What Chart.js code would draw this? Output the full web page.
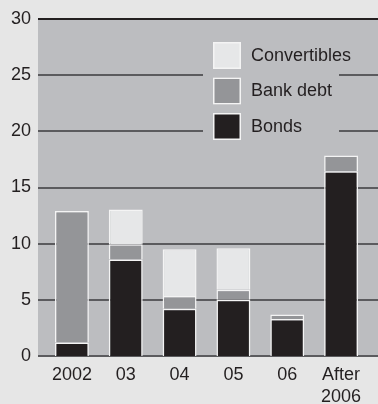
<!DOCTYPE html>
<html>
<head>
<meta charset="utf-8">
<script src="https://cdn.jsdelivr.net/npm/chart.js@4/dist/chart.umd.min.js"></script>
<style>
  html, body { margin: 0; padding: 0; background: #e6e6e6; }
  canvas { display: block; }
</style>
</head>
<body>
<canvas id="myChart" width="378" height="404"></canvas>
<script>
// datos (miles de millones)
const categorias = ['2002', '03', '04', '05', '06', ['After', '2006']];
const bonos = [1.2, 8.6, 4.2, 5.0, 3.3, 16.45];
const deudaBancaria = [11.7, 1.35, 1.15, 0.9, 0.4, 1.4];
const convertibles = [0, 3.1, 4.15, 3.7, 0, 0];
const ticksY = [0, 5, 10, 15, 20, 25, 30];

const colorTexto = '#231f20';
const fondoPlot = '#bcbdc0';
const fuente = 'Liberation Sans, Arial, Helvetica, sans-serif';

// fondo gris, lineas de grilla y leyenda propia
const fondoYGrilla = {
    id: 'fondoYGrilla',
    beforeDraw(chart) {
        const ctx = chart.ctx;
        const y = chart.scales.y;
        const izq = 38, der = chart.width;
        ctx.save();
        ctx.fillStyle = '#e6e6e6';
        ctx.fillRect(0, 0, chart.width, chart.height);
        ctx.fillStyle = fondoPlot;
        ctx.fillRect(izq, y.getPixelForValue(30), der - izq, y.getPixelForValue(0) - y.getPixelForValue(30));
        ticksY.forEach(v => {
            const py = Math.round(y.getPixelForValue(v));
            ctx.beginPath();
            ctx.strokeStyle = v === 30 ? colorTexto : '#5b5b5e';
            ctx.lineWidth = 2;
            ctx.moveTo(izq, py);
            ctx.lineTo(der, py);
            ctx.stroke();
        });
        ctx.restore();
    },
    afterDatasetsDraw(chart) {
        const ctx = chart.ctx;
        ctx.save();
        ctx.fillStyle = fondoPlot;
        ctx.fillRect(203, 34, 136, 112);
        const items = chart.data.datasets.slice().reverse();
        items.forEach((ds, i) => {
            const by = 42 + i * 35.5;
            ctx.fillStyle = ds.backgroundColor;
            ctx.fillRect(213, by, 28, 27);
            ctx.strokeStyle = '#f4f4f4';
            ctx.lineWidth = 1.5;
            ctx.strokeRect(213.75, by + 0.75, 26.5, 25.5);
            ctx.fillStyle = colorTexto;
            ctx.font = '18px ' + fuente;
            ctx.textBaseline = 'middle';
            ctx.textAlign = 'left';
            ctx.fillText(ds.label, 251, by + 14);
        });
        ctx.restore();
    }
};

function crearDataset(label, data, color) {
    return {
        label,
        data,
        backgroundColor: color,
        borderColor: '#f4f4f4',
        borderWidth: 1.5,
        barPercentage: 0.63,
        categoryPercentage: 1
    };
}

const canvas = document.querySelector('#myChart');
const myChart = new Chart(canvas, {
    type: 'bar',
    data: {
        labels: categorias,
        datasets: [
            crearDataset('Bonds', bonos, '#231f20'),
            crearDataset('Bank debt', deudaBancaria, '#949598'),
            crearDataset('Convertibles', convertibles, '#e6e7e8')
        ]
    },
    options: {
        responsive: false,
        animation: false,
        devicePixelRatio: 1,
        layout: { padding: { top: 19, right: 10, bottom: 0, left: 0 } },
        plugins: {
            legend: { display: false },
            tooltip: { enabled: false }
        },
        scales: {
            x: {
                stacked: true,
                grid: { display: false, drawTicks: false },
                border: { display: false },
                ticks: {
                    color: colorTexto,
                    font: { family: fuente, size: 18, lineHeight: 1.22 },
                    padding: 8,
                    maxRotation: 0
                },
                afterFit(scale) { scale.height = 48; }
            },
            y: {
                stacked: true,
                min: 0,
                max: 30,
                grid: { display: false, drawTicks: false },
                border: { display: false },
                ticks: {
                    stepSize: 5,
                    color: colorTexto,
                    font: { family: fuente, size: 18 },
                    padding: 14
                },
                afterFit(scale) {
                    scale.width = 45;
                    scale.paddingTop = 0;
                    scale.paddingBottom = 0;
                }
            }
        }
    },
    plugins: [fondoYGrilla]
});
</script>
</body>
</html>
